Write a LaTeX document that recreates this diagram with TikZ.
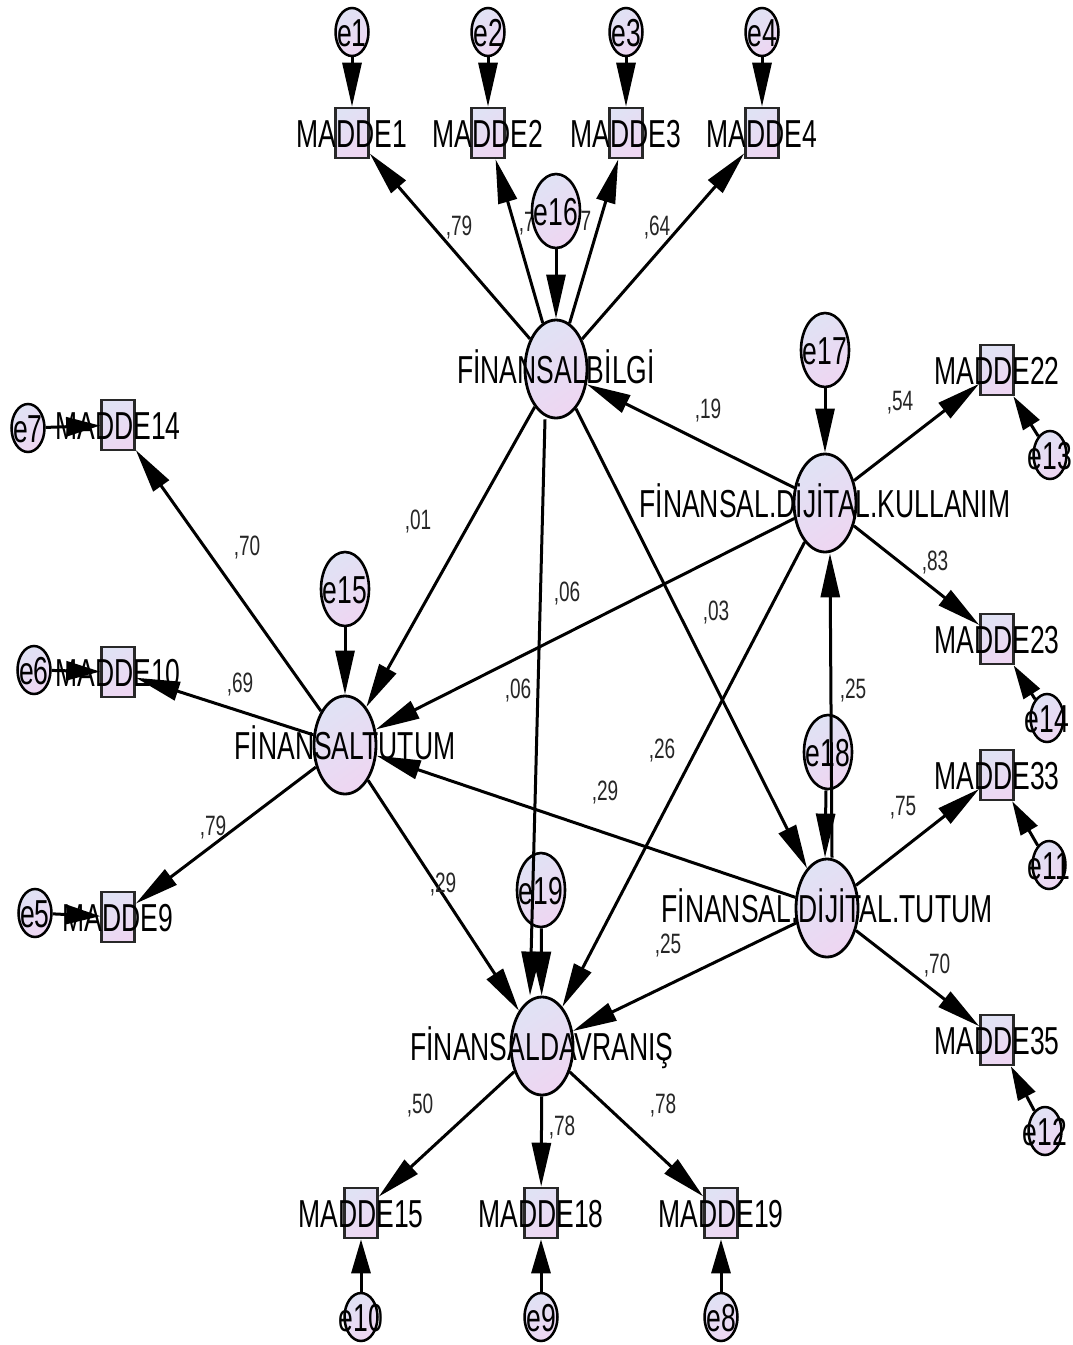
\documentclass[tikz,border=0pt]{standalone}
\usepackage{fontspec}
\setmainfont{Liberation Sans}[FakeStretch=0.68]
\usetikzlibrary{arrows.meta,shapes.geometric}
\pgfdeclarelayer{bg}
\pgfdeclarelayer{edges}
\pgfsetlayers{bg,edges,main}
\definecolor{lavA}{RGB}{224,226,244}
\definecolor{lavB}{RGB}{238,214,242}
\definecolor{boxline}{RGB}{40,40,40}
\newcommand\bigfnt{\fontsize{39pt}{39pt}\selectfont}
\newcommand\numfnt{\fontsize{28pt}{28pt}\selectfont}
\tikzset{
 shadefill/.style={top color=lavA, bottom color=lavB, shading angle=35},
 lat/.style={ellipse, draw=black, line width=2.8pt, minimum width=62pt, minimum height=98pt, inner sep=0pt, shadefill},
 errbig/.style={ellipse, draw=black, line width=2.6pt, minimum width=48pt, minimum height=74pt, inner sep=0pt, shadefill},
 errsm/.style={ellipse, draw=black, line width=2.5pt, minimum width=33pt, minimum height=48pt, inner sep=0pt, shadefill},
 obs/.style={rectangle, draw=boxline, line width=2.6pt, minimum width=33pt, minimum height=50pt, inner sep=0pt, shadefill},
 big/.style={font=\bigfnt, text height=28pt, text depth=0pt, inner sep=0pt},
 num/.style={font=\numfnt, text height=20pt, text depth=0pt, inner sep=0pt, text=black!85},
 arr/.style={-{Triangle[length=44pt,width=19pt]}, line width=3pt},
 sarr/.style={-{Triangle[length=34pt,width=19pt]}, line width=3pt},
}
\begin{document}
\begin{tikzpicture}[x=1pt,y=-1pt]
\begin{pgfonlayer}{bg}
\fill[white] (0,0) rectangle (1072,1345);
\end{pgfonlayer}
\path[use as bounding box] (0,0) rectangle (1072,1345);

% coefficient labels (drawn before nodes so e16 covers part of them)
\node[num] (c1) at (459,225) {,79};
\node[num] (c2) at (532,221) {,78};
\node[num] (c3) at (578,220) {,77};
\node[num] (c4) at (657,225) {,64};
\node[num] (c5) at (708,408) {,19};
\node[num] (c6) at (900,400) {,54};
\node[num] (c7) at (935,560) {,83};
\node[num] (c8) at (418,519) {,01};
\node[num] (c9) at (567,591) {,06};
\node[num] (c10) at (716,610) {,03};
\node[num] (c11) at (518,688) {,06};
\node[num] (c12) at (853,688) {,25};
\node[num] (c13) at (662,748) {,26};
\node[num] (c14) at (605,790) {,29};
\node[num] (c15) at (903,805) {,75};
\node[num] (c16) at (443,882) {,29};
\node[num] (c17) at (668,943) {,25};
\node[num] (c18) at (937,963) {,70};
\node[num] (c19) at (247,545) {,70};
\node[num] (c20) at (240,682) {,69};
\node[num] (c21) at (213,825) {,79};
\node[num] (c22) at (420,1103) {,50};
\node[num] (c23) at (562,1125) {,78};
\node[num] (c24) at (663,1103) {,78};

% top indicators
\node[errsm, label={[big]center:e1}] (e1) at (352,32) {};
\node[errsm, label={[big]center:e2}] (e2) at (488,32) {};
\node[errsm, label={[big]center:e3}] (e3) at (626,32) {};
\node[errsm, label={[big]center:e4}] (e4) at (762,32) {};
\node[obs, label={[big]center:MADDE1}] (m1) at (352,133) {};
\node[obs, label={[big]center:MADDE2}] (m2) at (488,133) {};
\node[obs, label={[big]center:MADDE3}] (m3) at (626,133) {};
\node[obs, label={[big]center:MADDE4}] (m4) at (762,133) {};

% latent variables
\node[lat, label={[big]center:FİNANSALBİLGİ}] (fb) at (556,369) {};
\node[lat, label={[big]center:FİNANSAL.DİJİTAL.KULLANIM}] (dk) at (825,503) {};
\node[lat, label={[big]center:FİNANSAL.DİJİTAL.TUTUM}] (dt) at (827,908) {};
\node[lat, label={[big]center:FİNANSALTUTUM}] (ft) at (345,745) {};
\node[lat, label={[big]center:FİNANSALDAVRANIŞ}] (fdav) at (542,1046) {};

% disturbances
\node[errbig, label={[big]center:e16}] (e16) at (556,211) {};
\node[errbig, label={[big]center:e17}] (e17) at (825,350) {};
\node[errbig, label={[big]center:e18}] (e18) at (828,752) {};
\node[errbig, label={[big]center:e15}] (e15) at (345,589) {};
\node[errbig, label={[big]center:e19}] (e19) at (541,890) {};

% right indicators
\node[obs, label={[big]center:MADDE22}] (m22) at (997,370) {};
\node[obs, label={[big]center:MADDE23}] (m23) at (997,639) {};
\node[obs, label={[big]center:MADDE33}] (m33) at (997,775) {};
\node[obs, label={[big]center:MADDE35}] (m35) at (997,1040) {};
\node[errsm, label={[big]center:e13}] (e13) at (1050,455) {};
\node[errsm, label={[big]center:e14}] (e14) at (1047,718) {};
\node[errsm, label={[big]center:e11}] (e11) at (1049,865) {};
\node[errsm, label={[big]center:e12}] (e12) at (1045,1131) {};

% left indicators
\node[obs, label={[big]center:MADDE14}] (m14) at (118,425) {};
\node[obs, label={[big]center:MADDE10}] (m10) at (118,672) {};
\node[obs, label={[big]center:MADDE9}] (m9) at (118,917) {};
\node[errsm, label={[big]center:e7}] (e7) at (28,428) {};
\node[errsm, label={[big]center:e6}] (e6) at (34,670) {};
\node[errsm, label={[big]center:e5}] (e5) at (35,913) {};

% bottom indicators
\node[obs, label={[big]center:MADDE15}] (m15) at (361,1213) {};
\node[obs, label={[big]center:MADDE18}] (m18) at (541,1213) {};
\node[obs, label={[big]center:MADDE19}] (m19) at (721,1213) {};
\node[errsm, label={[big]center:e10}] (e10) at (361,1317) {};
\node[errsm, label={[big]center:e9}] (e9) at (541,1317) {};
\node[errsm, label={[big]center:e8}] (e8) at (721,1317) {};

\begin{pgfonlayer}{edges}
% measurement errors
\draw[arr] (e1) -- (m1);
\draw[arr] (e2) -- (m2);
\draw[arr] (e3) -- (m3);
\draw[arr] (e4) -- (m4);
\draw[sarr] (e7) -- (m14);
\draw[sarr] (e6) -- (m10);
\draw[sarr] (e5) -- (m9);
\draw[sarr] (e13) -- (m22);
\draw[sarr] (e14) -- (m23);
\draw[sarr] (e11) -- (m33);
\draw[sarr] (e12) -- (m35);
\draw[sarr] (e10) -- (m15);
\draw[sarr] (e9) -- (m18);
\draw[sarr] (e8) -- (m19);
% loadings
\draw[arr] (fb) -- (m1);
\draw[arr] (fb) -- (m2);
\draw[arr] (fb) -- (m3);
\draw[arr] (fb) -- (m4);
\draw[arr] (dk) -- (m22);
\draw[arr] (dk) -- (m23);
\draw[arr] (dt) -- (m33);
\draw[arr] (dt) -- (m35);
\draw[arr] (ft) -- (m14);
\draw[arr] (ft) -- (m10);
\draw[arr] (ft) -- (m9);
\draw[arr] (fdav) -- (m15);
\draw[arr] (fdav) -- (m18);
\draw[arr] (fdav) -- (m19);
% structural paths
\draw[arr] (dk) -- (fb);
\draw[arr] (fb) -- (ft);
\draw[arr] (fb) -- (dt);
\draw[arr] (dk) -- (ft);
\draw[arr] (dk) -- (fdav);
\draw[arr] (dt) -- (ft);
\draw[arr] (ft) -- (fdav);
\draw[arr] (dt) -- (fdav);
% disturbances
\draw[arr] (e16) -- (fb);
\draw[arr] (e17) -- (dk);
\draw[arr] (e15) -- (ft);
\draw[arr] ([xshift=-2pt]e18.south) -- ([xshift=-2pt]dt.north);
\draw[arr] (e19) -- (fdav);
\end{pgfonlayer}

% paths drawn over the disturbance ellipses
\draw[arr] ([xshift=5pt]dt.north) -- ([xshift=5pt]dk.south);
\draw[arr] ([xshift=-11pt]fb.south) -- ([xshift=-12pt]fdav.north);
\end{tikzpicture}
\end{document}
